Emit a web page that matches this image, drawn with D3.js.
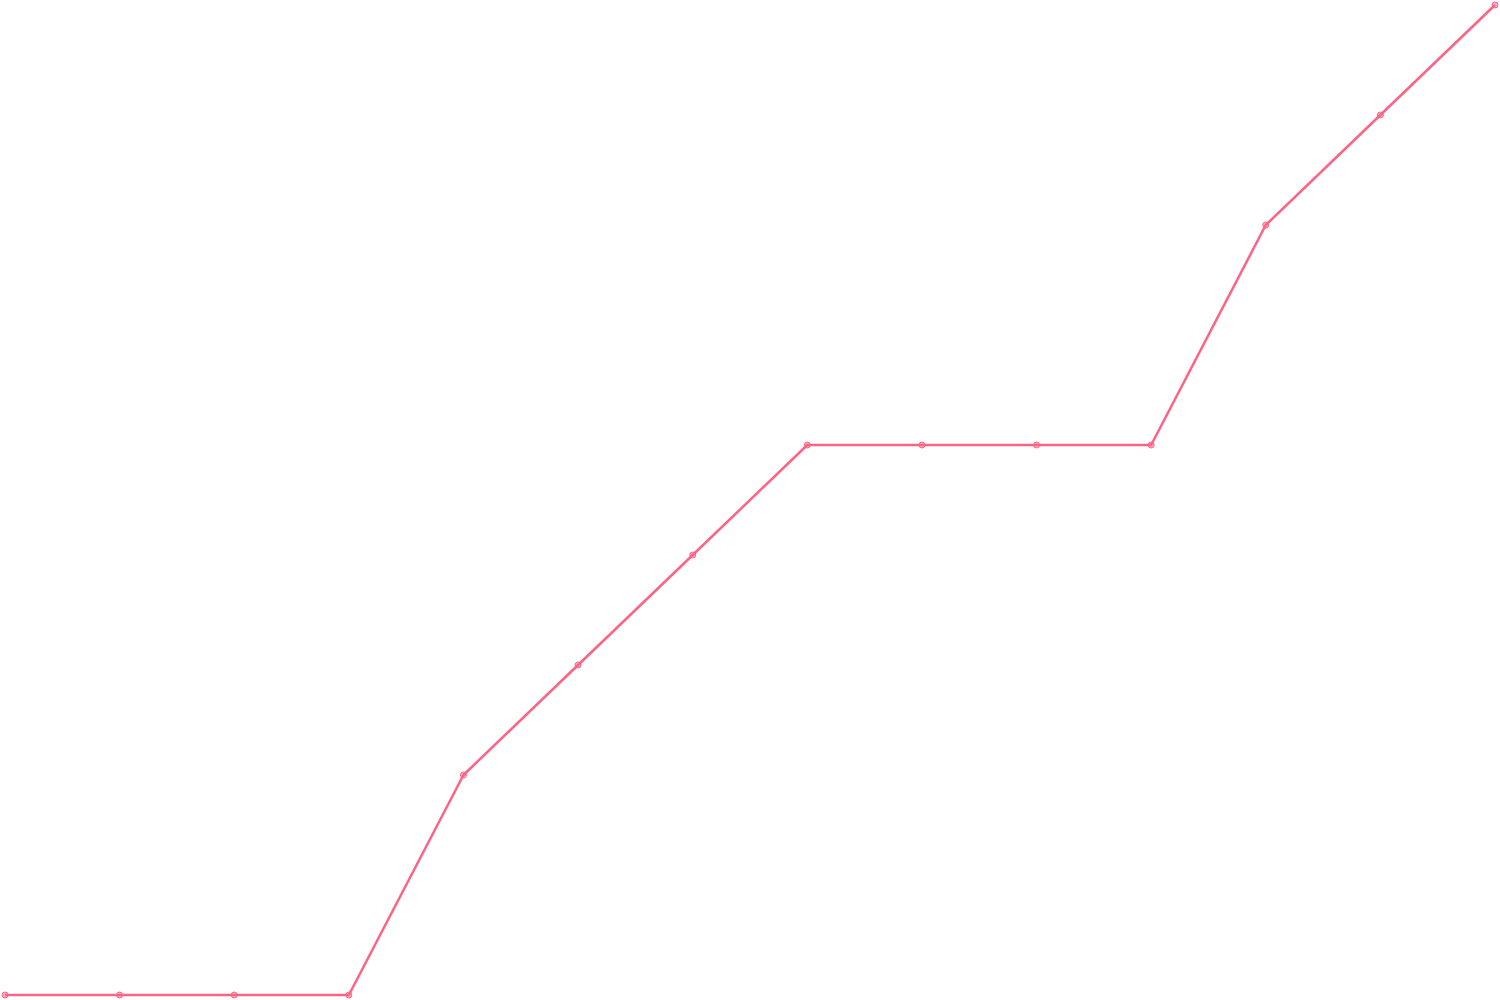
<!DOCTYPE html>
<html>
<head>
<meta charset="utf-8">
<script src="https://cdn.jsdelivr.net/npm/d3@7"></script>
<style>
  html, body { margin: 0; padding: 0; background: #fff; }
  svg { display: block; }
</style>
</head>
<body>
<svg id="drawing_region"></svg>
<script>
// x positions are just the index of each point
const labels = [0, 1, 2, 3, 4, 5, 6, 7, 8, 9, 10, 11, 12, 13];
const values = [0, 0, 0, 0, 2, 3, 4, 5, 5, 5, 5, 7, 8, 9];

const data = labels.map((l, i) => ({ x: l, y: values[i] }));

const config = {
    width: 1500,
    height: 1000,
    margin: { top: 5, right: 5, bottom: 5, left: 5 }
};

const svg = d3.select('#drawing_region')
    .attr('width', config.width)
    .attr('height', config.height);

const chart = svg.append('g')
    .attr('transform', `translate(${config.margin.left}, ${config.margin.top})`);

const inner_width = config.width - config.margin.left - config.margin.right;
const inner_height = config.height - config.margin.top - config.margin.bottom;

const xscale = d3.scaleLinear()
    .domain(d3.extent(labels))
    .range([0, inner_width]);

const yscale = d3.scaleLinear()
    .domain([0, d3.max(values)])
    .range([inner_height, 0]);

const line = d3.line()
    .x(d => xscale(d.x))
    .y(d => yscale(d.y));

chart.append('path')
    .datum(data)
    .attr('fill', 'none')
    .attr('stroke', 'rgb(255, 99, 132)')
    .attr('stroke-width', 2.5)
    .attr('stroke-linejoin', 'round')
    .attr('d', line);

chart.selectAll('circle')
    .data(data)
    .join('circle')
    .attr('cx', d => xscale(d.x))
    .attr('cy', d => yscale(d.y))
    .attr('r', 3)
    .attr('fill', 'rgba(255, 99, 132, 0.5)')
    .attr('stroke', 'rgb(255, 99, 132)')
    .attr('stroke-width', 1);
</script>
</body>
</html>
